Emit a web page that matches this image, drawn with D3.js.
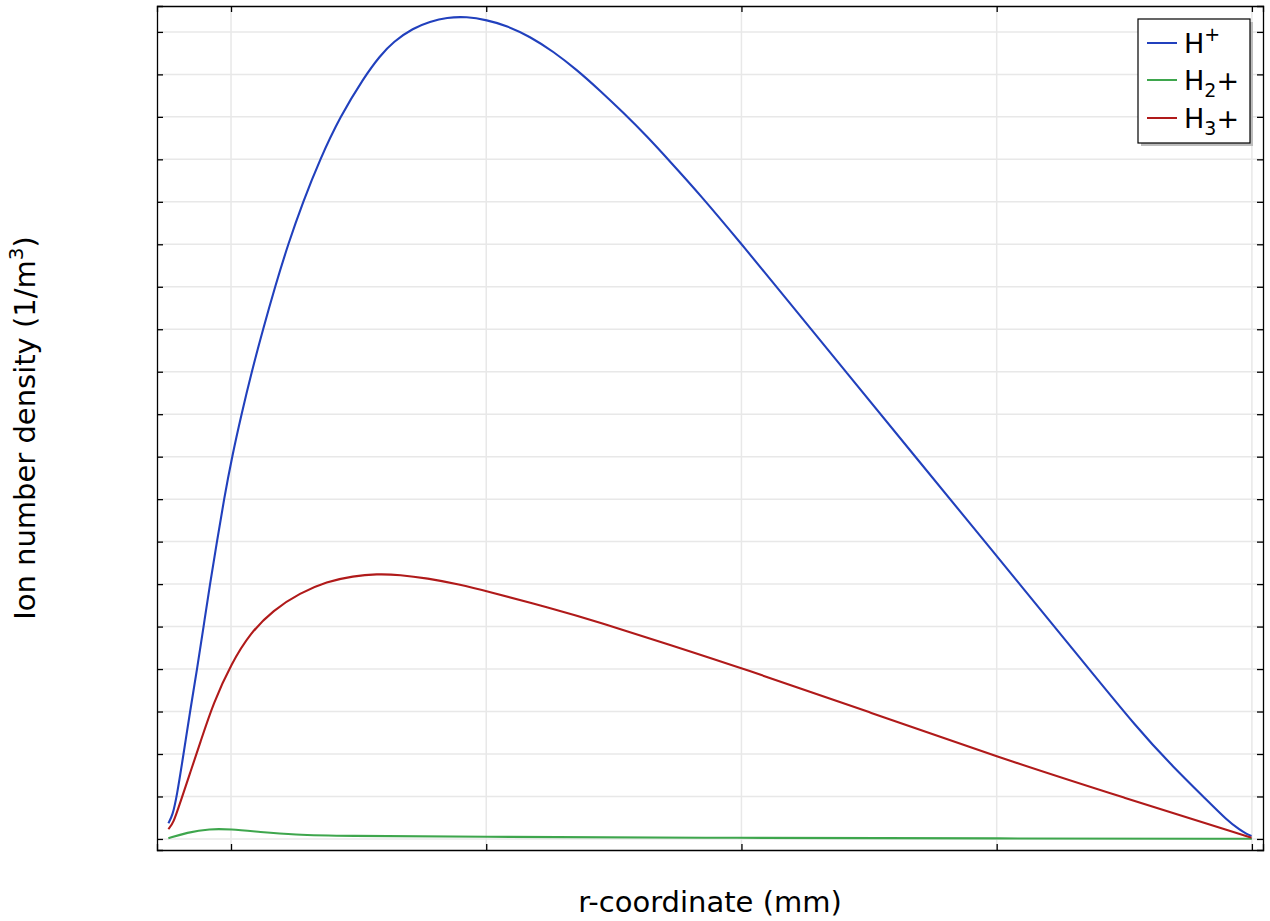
<!DOCTYPE html>
<html>
<head>
<meta charset="utf-8">
<script src="https://cdn.jsdelivr.net/npm/d3@7"></script>
<style>
  body { margin: 0; background: #fff; }
  svg { font-family: "DejaVu Sans", sans-serif; }
</style>
</head>
<body>
<svg id="main-svg"></svg>
<script>
// r-coordinate (mm) and densities (arbitrary units, one grid step = 1)
const rH1 = [1.509, 1.542, 1.575, 1.628, 1.679, 1.734, 1.785, 1.835, 1.890, 1.945, 2.008, 2.082, 2.162, 2.251, 2.345, 2.447, 2.564, 2.697, 2.854, 3.042, 3.168, 3.272, 3.428, 3.559, 3.690, 3.847, 4.004, 4.160, 4.343, 4.525, 4.709, 4.891, 5.074, 5.257, 5.440, 5.675, 6.002, 6.302, 6.824, 7.346, 7.921, 8.600, 9.122, 9.383, 9.645, 9.802, 9.906, 9.958, 9.997];
const nH1 = [0.37, 0.55, 1, 2, 3, 4, 5, 6, 7, 8, 9, 10, 11, 12, 13, 14, 15, 16, 17, 17.93, 18.44, 18.77, 19.09, 19.24, 19.34, 19.36, 19.28, 19.15, 18.89, 18.54, 18.11, 17.62, 17.10, 16.55, 15.95, 15.17, 14.00, 12.90, 10.98, 9.06, 6.95, 4.46, 2.53, 1.70, 0.92, 0.45, 0.21, 0.12, 0.07];

const rH2 = [1.509, 1.653, 1.835, 1.992, 2.227, 2.488, 2.880, 3.794, 5.996, 8.025, 10.0];
const nH2 = [0.016, 0.15, 0.24, 0.23, 0.165, 0.10, 0.07, 0.054, 0.024, 0.012, 0.005];

const rH3 = [1.509, 1.548, 1.600, 1.679, 1.757, 1.861, 2.005, 2.149, 2.331, 2.541, 2.750, 2.958, 3.142, 3.324, 3.533, 3.794, 3.998, 4.50, 4.891, 5.44, 5.996, 7.0, 8.002, 8.997, 9.997];
const nH3 = [0.23, 0.37, 0.84, 1.55, 2.25, 3.20, 4.14, 4.84, 5.39, 5.79, 6.06, 6.19, 6.24, 6.22, 6.14, 5.99, 5.84, 5.44, 5.10, 4.57, 4.03, 2.99, 1.93, 0.97, 0.03];

const xTicks = [2, 4, 6, 8, 10];
const yTicks = d3.range(0, 20);

const seriesColors = ["#2140bd", "#3ea64d", "#b01a1a"];

const width = 1270, height = 921;
const margin = {left: 157, right: 7, top: 6, bottom: 71};

const svg = d3.select('#main-svg').attr('width', width).attr('height', height);

const x = d3.scaleLinear().domain([1.42, 10.087]).range([margin.left, width - margin.right]);
const y = d3.scaleLinear().domain([-0.26, 19.61]).range([height - margin.bottom, margin.top]);

// grid
let grid = svg.append('g');
grid.selectAll('.vg').data(xTicks).enter().append('line')
  .attr('x1', d => x(d)).attr('x2', d => x(d))
  .attr('y1', margin.top).attr('y2', height - margin.bottom)
  .attr('stroke', '#e8e8e8').attr('stroke-width', 1.5);
grid.selectAll('.hg').data(yTicks).enter().append('line')
  .attr('x1', margin.left).attr('x2', width - margin.right)
  .attr('y1', d => y(d)).attr('y2', d => y(d))
  .attr('stroke', '#e8e8e8').attr('stroke-width', 1.5);

// axes with inward ticks, no labels
const tickLen = 6;
svg.append('g').attr('transform', `translate(0,${height - margin.bottom})`)
  .call(d3.axisBottom(x).tickValues(xTicks).tickSize(-tickLen).tickFormat(''));
svg.append('g').attr('transform', `translate(0,${margin.top})`)
  .call(d3.axisTop(x).tickValues(xTicks).tickSize(-tickLen).tickFormat(''));
svg.append('g').attr('transform', `translate(${margin.left},0)`)
  .call(d3.axisLeft(y).tickValues(yTicks).tickSize(-tickLen).tickFormat(''));
svg.append('g').attr('transform', `translate(${width - margin.right},0)`)
  .call(d3.axisRight(y).tickValues(yTicks).tickSize(-tickLen).tickFormat(''));
svg.selectAll('.domain').attr('stroke', '#000').attr('stroke-width', 1.3);
svg.selectAll('.tick line').attr('stroke', '#000').attr('stroke-width', 1.3);

// curves (basis smooths small reading errors)
const line = d3.line().x(d => x(d[0])).y(d => y(d[1])).curve(d3.curveBasis);
const series = [d3.zip(rH1, nH1), d3.zip(rH2, nH2), d3.zip(rH3, nH3)];
svg.append('g').selectAll('path').data(series).enter().append('path')
  .attr('d', line)
  .attr('fill', 'none')
  .attr('stroke', (d, i) => seriesColors[i])
  .attr('stroke-width', 2.1);

// axis labels
svg.append('text')
  .attr('x', (margin.left + width - margin.right) / 2)
  .attr('y', 912)
  .attr('text-anchor', 'middle')
  .attr('font-size', 29)
  .text('r-coordinate (mm)');

let yl = svg.append('text')
  .attr('transform', `translate(35,${(margin.top + height - margin.bottom) / 2}) rotate(-90)`)
  .attr('text-anchor', 'middle')
  .attr('font-size', 29);
yl.append('tspan').text('Ion number density (1/m');
yl.append('tspan').attr('font-size', 20).attr('dy', -12).text('3');
yl.append('tspan').attr('dy', 12).text(')');

// legend
let lg = svg.append('g').attr('transform', 'translate(1138,19)');
lg.append('rect').attr('x', 3).attr('y', 3).attr('width', 112).attr('height', 124).attr('fill', '#bdbdbd');
lg.append('rect').attr('x', 0).attr('y', 0).attr('width', 112).attr('height', 124)
  .attr('fill', '#fff').attr('stroke', '#000').attr('stroke-width', 1.2);
const legendRows = [24, 61, 99];
legendRows.forEach((ry, i) => {
  lg.append('line').attr('x1', 9).attr('x2', 39).attr('y1', ry).attr('y2', ry)
    .attr('stroke', seriesColors[i]).attr('stroke-width', 2);
  let t = lg.append('text').attr('x', 46).attr('y', ry + 10).attr('font-size', 27);
  t.append('tspan').text('H');
  if (i === 0) {
    t.append('tspan').attr('font-size', 19).attr('dy', -12).text('+');
  } else {
    t.append('tspan').attr('font-size', 19).attr('dy', 7).text(i === 1 ? '2' : '3');
    t.append('tspan').attr('dy', -7).text('+');
  }
});
</script>
</body>
</html>
